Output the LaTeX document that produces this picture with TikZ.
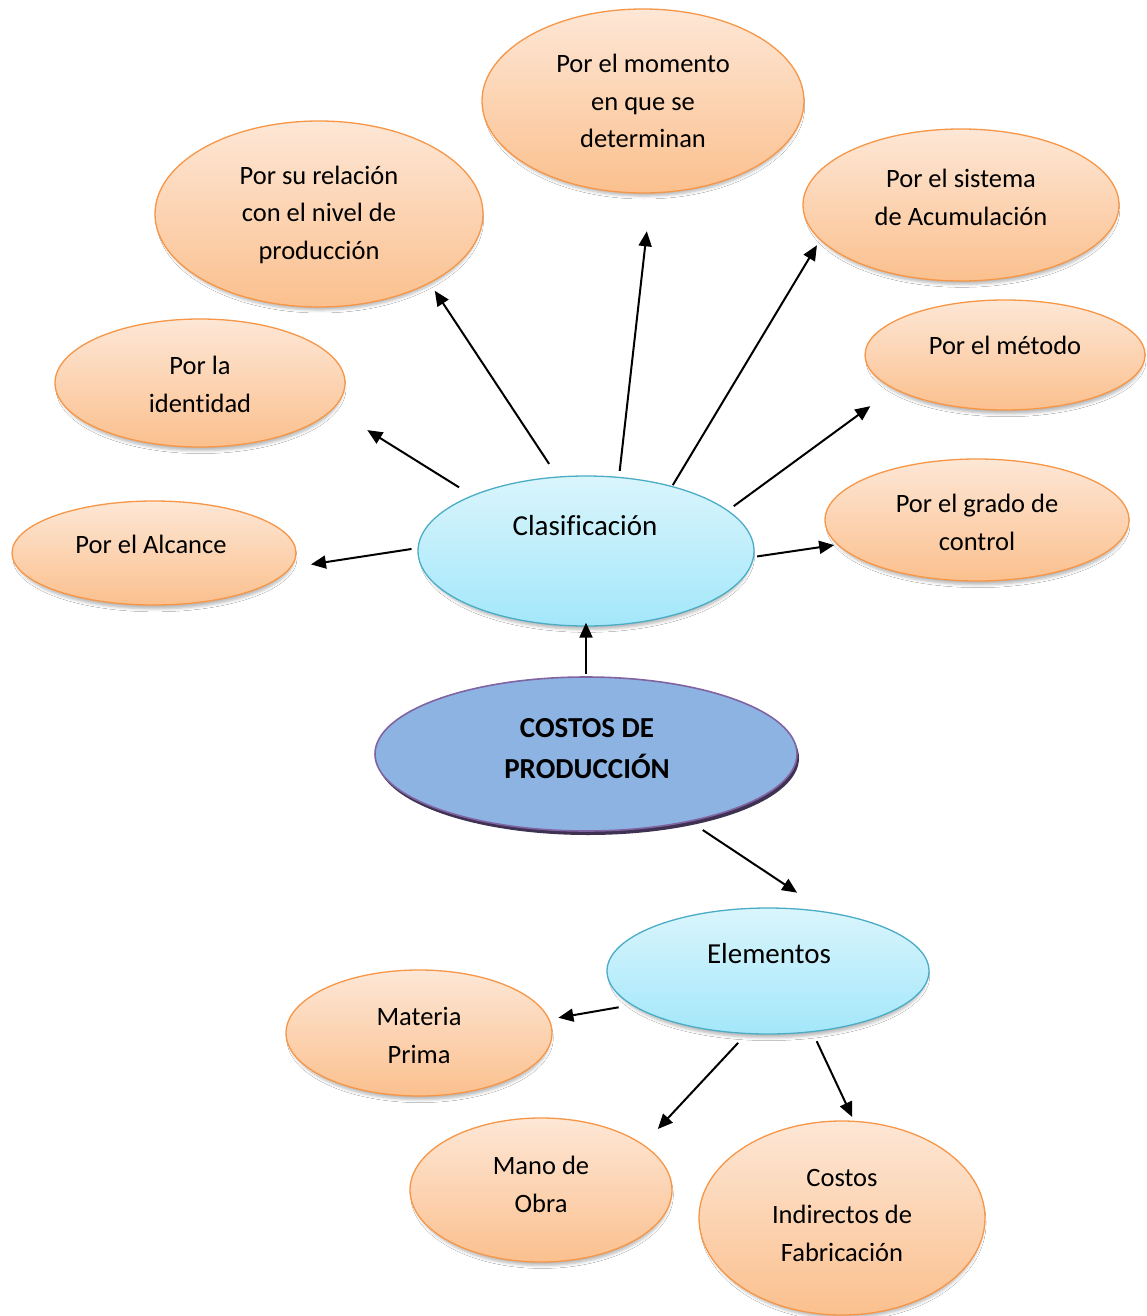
\documentclass[tikz,border=0pt]{standalone}
\usepackage{fontspec}
\setmainfont{Carlito}[Ligatures={NoCommon}]
\usetikzlibrary{arrows.meta,shadows,shadows.blur,shapes.geometric}

\definecolor{peachline}{HTML}{F79646}
\definecolor{peachtop}{HTML}{FDE7D6}
\definecolor{peachbot}{HTML}{FBC08E}
\definecolor{skyline}{HTML}{4BACC6}
\definecolor{skytop}{HTML}{DAF5FC}
\definecolor{skybot}{HTML}{A3E7FA}
\definecolor{coreline}{HTML}{8064A2}
\definecolor{corefill}{HTML}{8DB3E2}
\definecolor{coreshade}{HTML}{3F3151}

% strut that fixes every text line to the same height and depth
\newcommand\ls{\rule[-7pt]{0pt}{31pt}}

\tikzset{
  bubble/.style={ellipse, inner sep=0pt, line width=1.3pt},
  softshadow/.style={blur shadow={shadow xshift=1pt, shadow yshift=-5pt,
      shadow scale=0.98, shadow blur radius=3pt, shadow opacity=28}},
  peach/.style={bubble, draw=peachline, top color=peachtop, bottom color=peachbot, softshadow},
  sky/.style={bubble, draw=skyline, top color=skytop, bottom color=skybot, softshadow},
  core/.style={bubble, draw=coreline, fill=corefill, line width=1.6pt,
      drop shadow={shadow xshift=2pt, shadow yshift=-4pt, fill=coreshade, opacity=1}},
  lbl/.style={align=center, inner sep=0pt, font=\fontsize{26.5}{37.5}\selectfont},
  hublbl/.style={align=center, inner sep=0pt, font=\fontsize{29}{37.5}\selectfont},
  boldlbl/.style={align=center, inner sep=0pt, font=\bfseries\fontsize{29}{41}\selectfont},
  arr/.style={-{Triangle[length=15pt,width=13pt]}, line width=2pt},
}

\begin{document}
\begin{tikzpicture}[x=1pt, y=-1pt]
\useasboundingbox (0,0) rectangle (1146,1316);
\fill[white] (0,0) rectangle (1146,1316);

% classification branches
\node[peach, minimum width=322pt, minimum height=184pt] (mom) at (643,101) {};
\node[lbl] (momt) at (643,102) {\ls Por el momento\\\ls en que se\\\ls determinan};

\node[peach, minimum width=328pt, minimum height=186pt] (rel) at (319,214) {};
\node[lbl] (relt) at (319,213) {\ls Por su relación\\\ls con el nivel de\\\ls producción};

\node[peach, minimum width=316pt, minimum height=152pt] (sis) at (961,205) {};
\node[lbl] (sist) at (961,198) {\ls Por el sistema\\\ls de Acumulación};

\node[peach, minimum width=280pt, minimum height=110pt] (met) at (1005,355) {};
\node[lbl] (mett) at (1005,346) {\ls Por el método};

\node[peach, minimum width=290pt, minimum height=128pt] (iden) at (200,383) {};
\node[lbl] (ident) at (200,385) {\ls Por la\\\ls identidad};

\node[peach, minimum width=304pt, minimum height=122pt] (gra) at (977,520) {};
\node[lbl] (grat) at (977,523) {\ls Por el grado de\\\ls control};

\node[peach, minimum width=284pt, minimum height=104pt] (alc) at (154,553) {};
\node[lbl] (alct) at (151,545) {\ls Por el Alcance};

% classification hub
\node[sky, minimum width=336pt, minimum height=150pt] (clas) at (586,551) {};
\node[hublbl] (clast) at (585,527) {\ls Clasificación};

% central concept
\node[core, minimum width=422pt, minimum height=154pt] (cost) at (586,754) {};
\node[boldlbl] (costt) at (587,749) {\ls COSTOS DE\\\ls PRODUCCIÓN};

% elements hub and its branches
\node[sky, minimum width=322pt, minimum height=126pt] (ele) at (768,971) {};
\node[hublbl] (elet) at (769,955) {\ls Elementos};

\node[peach, minimum width=266pt, minimum height=126pt] (mat) at (419,1033) {};
\node[lbl] (matt) at (419,1036) {\ls Materia\\\ls Prima};

\node[peach, minimum width=262pt, minimum height=144pt] (mano) at (541,1190) {};
\node[lbl] (manot) at (541,1185) {\ls Mano de\\\ls Obra};

\node[peach, minimum width=286pt, minimum height=194pt] (cif) at (842,1218) {};
\node[lbl] (cift) at (842,1215) {\ls Costos\\\ls Indirectos de\\\ls Fabricación};

% connectors
\draw[arr, shorten <=6pt, shorten >=20pt] (clas.179) -- (alc.-6);
\draw[arr, shorten <=15pt, shorten >=40pt] (clas.154) -- (iden.-11);
\draw[arr, shorten <=15pt, shorten >=9pt] (clas.111) -- (rel.-32);
\draw[arr, shorten <=6pt, shorten >=38pt] (clas.66) -- (mom.-85);
\draw[arr, shorten <=1pt, shorten >=6pt] (clas.37) -- (sis.-166);
\draw[arr, shorten <=7pt, shorten >=29pt] (clas.16) -- (met.-163);
\draw[arr, shorten <=3pt, shorten >=3pt] (clas.-2) -- (gra.-170);
\draw[arr, shorten <=2pt, shorten >=-4pt] (cost.90) -- (clas.-90);
\draw[arr, shorten <=15pt, shorten >=34pt] (cost.-33) -- (ele.46);
\draw[arr, shorten <=13pt, shorten >=9pt] (ele.-166) -- (mat.6);
\draw[arr, shorten <=12pt, shorten >=21pt] (ele.-109) -- (mano.24);
\draw[arr, shorten <=10pt, shorten >=4pt] (ele.-54) -- (cif.83);
\end{tikzpicture}
\end{document}
